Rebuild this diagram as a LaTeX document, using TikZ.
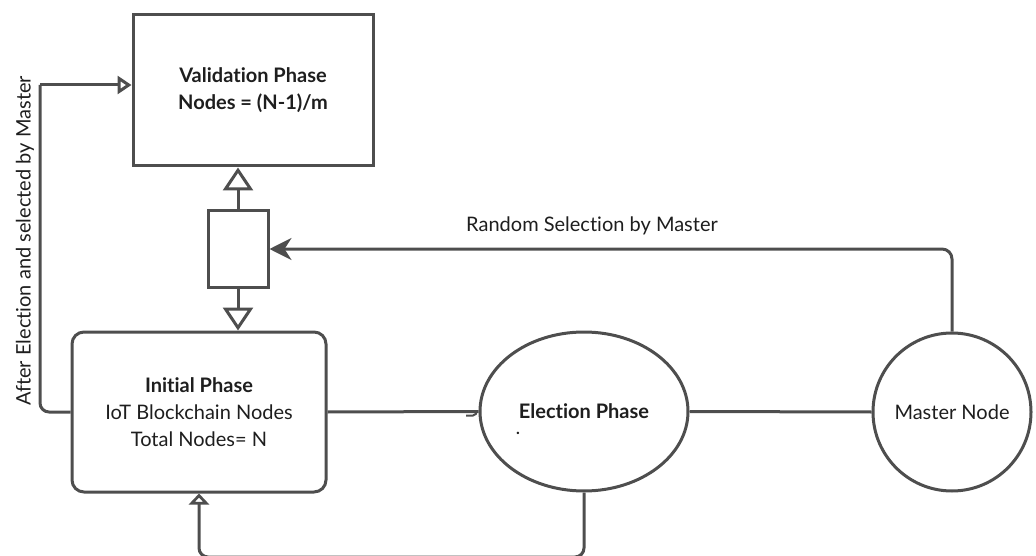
\documentclass[tikz,border=0pt]{standalone}
\usepackage{fontspec}
\setmainfont{Lato}[Ligatures={NoCommon}]
\usetikzlibrary{arrows.meta,shapes.geometric}
\definecolor{linegray}{RGB}{78,78,78}
\definecolor{textdark}{RGB}{30,30,30}
\begin{document}
\begin{tikzpicture}[x=1pt,y=-1pt,
  every node/.style={text=textdark, font=\fontsize{20}{27}\selectfont},
  conn/.style={draw=linegray, line width=3pt},
  shapebox/.style={draw=linegray, line width=3pt, fill=white, inner sep=0pt},
  opentip/.style={-{Triangle[open, length=23pt, width=30pt, fill=white]}},
  smalltip/.style={-{Triangle[open, length=14pt, width=18pt, fill=white]}},
  bottomtip/.style={-{Triangle[open, length=11pt, width=20pt, fill=white]}},
  solidtip/.style={-{Stealth[length=22pt, width=22pt, inset=7pt]}}
]
\useasboundingbox (0,0) rectangle (1036,556);

% phase nodes
\node[shapebox, rectangle, minimum width=240pt, minimum height=151pt, align=center]
  (val) at (253,90.5) {\bfseries Validation Phase\\\bfseries Nodes = (N-1)/m};
\node[shapebox, rectangle, minimum width=60pt, minimum height=76pt] (mid) at (238,249) {};
\node[shapebox, rectangle, rounded corners=12pt, minimum width=254pt, minimum height=160pt, align=center]
  (init) at (199,412) {\bfseries Initial Phase\\IoT Blockchain Nodes\\Total Nodes= N};
\node[shapebox, ellipse, minimum width=208pt, minimum height=159pt] (elec) at (584,411.5) {};
\node (electxt) at (584,411) {\bfseries Election Phase};
\node[font=\fontsize{16}{18}\selectfont\bfseries] (dot) at (518,433) {.};
\node[shapebox, circle, minimum size=158pt] (master) at (952,412) {Master Node};

% connectors
\draw[conn, opentip] (mid.north) -- (mid.north |- val.south);
\draw[conn, opentip] (mid.south) -- (mid.south |- init.north);
\draw[conn, solidtip, rounded corners=10pt] (master.north) |- (mid.east);
\node (rlabel) at (592,226) {Random Selection by Master};

\coordinate (lk) at (40,85);
\draw[conn, rounded corners=9pt] (init.west) -| (lk);
\draw[conn, smalltip] (lk) -- (lk -| val.west);
\node[rotate=90] (llabel) at (25,241) {After Election and selected by Master};

\draw[conn] (init.east) -- (elec.west);
\draw[draw=linegray, line width=2pt] (466,415.5) -- (473,415.5)
  .. controls (476,415.5) and (476.5,413) .. (476.5,410.5);
\draw[conn] (elec.east) -- (master.west);

\coordinate (lowrun) at (584,557);
\draw[conn, bottomtip, rounded corners=9pt] (elec.south) -- (lowrun) -| (init.south);
\end{tikzpicture}
\end{document}
